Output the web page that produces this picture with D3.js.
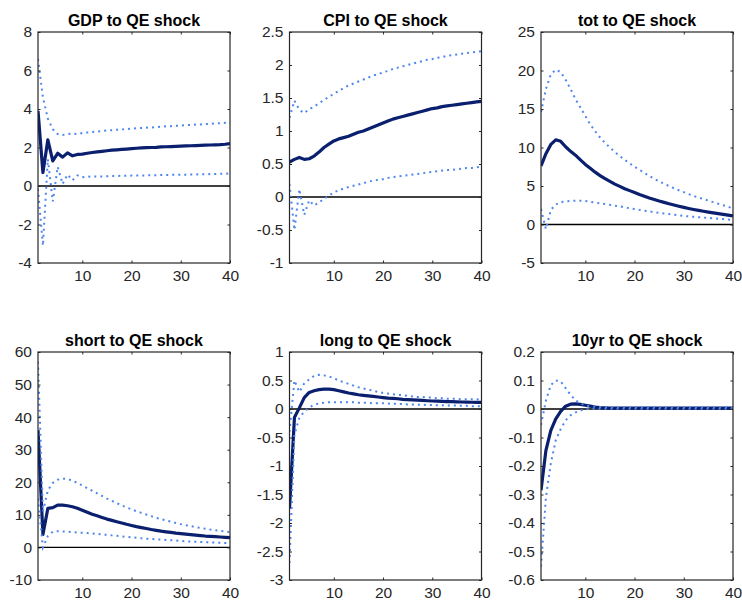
<!DOCTYPE html>
<html>
<head>
<meta charset="utf-8">
<script src="https://cdn.jsdelivr.net/npm/d3@7"></script>
<style>
  html, body { margin: 0; padding: 0; background: #ffffff; }
  svg { display: block; }
  text { font-family: "Liberation Sans", Arial, Helvetica, sans-serif; }
</style>
</head>
<body>
<svg id="chart" width="742" height="601"></svg>
<script>
// ---------------- data ----------------
const periods = [1,2,3,4,5,6,7,8,9,10,11,12,13,14,15,16,17,18,19,20,21,22,23,24,25,26,27,28,29,30,31,32,33,34,35,36,37,38,39,40];

const titles = ["GDP to QE shock", "CPI to QE shock", "tot to QE shock",
                "short to QE shock", "long to QE shock", "10yr to QE shock"];

const xTickValues = [10, 20, 30, 40];

const yDomains = [[-4, 8], [-1, 2.5], [-5, 25], [-10, 60], [-3, 1], [-0.6, 0.2]];
const yTickValues = [
  [-4, -2, 0, 2, 4, 6, 8],
  [-1, -0.5, 0, 0.5, 1, 1.5, 2, 2.5],
  [-5, 0, 5, 10, 15, 20, 25],
  [-10, 0, 10, 20, 30, 40, 50, 60],
  [-3, -2.5, -2, -1.5, -1, -0.5, 0, 0.5, 1],
  [-0.6, -0.5, -0.4, -0.3, -0.2, -0.1, 0, 0.1, 0.2]
];

// GDP
const gdpMean  = [3.9,0.7,2.4,1.3,1.7,1.5,1.72,1.57,1.64,1.66,1.7,1.74,1.77,1.8,1.83,1.86,1.88,1.9,1.92,1.94,1.96,1.98,1.99,2.0,2.01,2.03,2.04,2.05,2.06,2.07,2.08,2.09,2.1,2.11,2.12,2.13,2.14,2.15,2.17,2.2];
const gdpUpper = [6.6,4.6,3.5,2.95,2.7,2.65,2.7,2.72,2.7,2.75,2.78,2.8,2.83,2.86,2.88,2.9,2.92,2.94,2.96,2.98,3.0,3.01,3.03,3.04,3.06,3.08,3.1,3.11,3.13,3.14,3.16,3.17,3.19,3.2,3.22,3.23,3.25,3.26,3.28,3.3];
const gdpLower = [-0.15,-3.1,1.4,-0.8,1.0,0.1,0.6,0.3,0.55,0.45,0.48,0.5,0.5,0.5,0.51,0.52,0.52,0.53,0.53,0.54,0.54,0.55,0.55,0.56,0.56,0.57,0.57,0.58,0.58,0.59,0.59,0.6,0.6,0.61,0.61,0.62,0.62,0.63,0.64,0.65];

// CPI
const cpiMean  = [0.53,0.57,0.6,0.57,0.58,0.62,0.68,0.75,0.8,0.85,0.88,0.9,0.92,0.95,0.98,1.0,1.03,1.06,1.09,1.12,1.15,1.18,1.2,1.22,1.24,1.26,1.28,1.3,1.32,1.34,1.35,1.37,1.38,1.39,1.4,1.41,1.42,1.43,1.44,1.45];
const cpiUpper = [1.2,1.46,1.32,1.27,1.33,1.37,1.42,1.47,1.52,1.56,1.61,1.65,1.69,1.72,1.75,1.78,1.81,1.84,1.86,1.89,1.91,1.94,1.96,1.98,2.0,2.02,2.04,2.06,2.08,2.09,2.11,2.12,2.14,2.15,2.16,2.17,2.18,2.19,2.2,2.21];
const cpiLower = [0.2,-0.5,0.12,-0.27,-0.05,-0.13,-0.08,-0.03,0.02,0.07,0.1,0.13,0.15,0.17,0.19,0.21,0.23,0.25,0.26,0.27,0.29,0.3,0.31,0.32,0.33,0.34,0.35,0.36,0.37,0.38,0.39,0.4,0.41,0.41,0.42,0.43,0.44,0.44,0.45,0.46];

// tot
const totMean  = [7.6,9.2,10.4,11.0,10.8,10.1,9.5,9.0,8.4,7.8,7.3,6.8,6.35,5.95,5.6,5.25,4.95,4.65,4.4,4.15,3.9,3.67,3.45,3.25,3.05,2.87,2.7,2.53,2.37,2.22,2.08,1.95,1.83,1.72,1.61,1.51,1.41,1.32,1.22,1.12];
const totUpper = [14.6,17.6,19.5,20.1,19.8,18.8,17.6,16.3,15.2,14.1,13.0,12.1,11.3,10.6,10.0,9.4,8.9,8.4,7.95,7.5,7.1,6.7,6.3,5.95,5.6,5.3,5.0,4.7,4.45,4.2,3.95,3.7,3.5,3.3,3.1,2.9,2.7,2.5,2.3,2.1];
const totLower = [2.0,-0.6,1.9,2.6,2.9,3.0,3.05,3.1,3.1,3.05,2.95,2.85,2.75,2.65,2.55,2.45,2.35,2.25,2.1,2.0,1.9,1.8,1.7,1.6,1.5,1.42,1.35,1.28,1.2,1.12,1.05,1.0,0.95,0.9,0.85,0.8,0.75,0.7,0.65,0.6];

// short
const shortMean  = [36,4,12,12.2,13,13,12.8,12.5,12,11.4,10.8,10.2,9.7,9.2,8.7,8.3,7.9,7.5,7.1,6.75,6.4,6.1,5.8,5.5,5.25,5.0,4.8,4.6,4.4,4.25,4.1,3.95,3.8,3.65,3.5,3.4,3.3,3.2,3.1,3.0];
const shortUpper = [57,11,17.5,19.8,20.8,21.1,21.0,20.5,19.8,19.0,18.2,17.4,16.6,15.8,15.0,14.3,13.6,12.9,12.3,11.7,11.1,10.6,10.1,9.6,9.1,8.7,8.3,7.9,7.5,7.15,6.85,6.55,6.25,6.0,5.75,5.5,5.3,5.1,4.9,4.7];
const shortLower = [15,0,3.5,4.8,5.0,4.9,4.8,4.7,4.6,4.5,4.4,4.3,4.15,4.0,3.85,3.7,3.55,3.4,3.25,3.1,2.95,2.8,2.7,2.6,2.5,2.4,2.3,2.2,2.1,2.0,1.9,1.8,1.75,1.7,1.6,1.55,1.5,1.4,1.35,1.3];

// long
const longMean  = [-1.75,-0.15,0.02,0.2,0.29,0.32,0.34,0.35,0.35,0.34,0.32,0.3,0.28,0.265,0.25,0.24,0.23,0.22,0.21,0.2,0.19,0.185,0.18,0.17,0.165,0.16,0.155,0.15,0.145,0.14,0.138,0.135,0.13,0.128,0.125,0.123,0.12,0.118,0.116,0.115];
const longUpper = [-0.4,0.5,0.3,0.45,0.52,0.58,0.6,0.59,0.57,0.54,0.5,0.47,0.44,0.41,0.38,0.36,0.34,0.32,0.3,0.28,0.27,0.26,0.25,0.24,0.23,0.22,0.21,0.21,0.2,0.2,0.19,0.19,0.18,0.18,0.18,0.17,0.17,0.17,0.17,0.16];
const longLower = [-2.7,-0.45,-0.15,-0.05,0.03,0.07,0.1,0.11,0.12,0.12,0.12,0.12,0.12,0.12,0.11,0.11,0.11,0.1,0.1,0.1,0.095,0.09,0.09,0.085,0.08,0.08,0.075,0.075,0.07,0.07,0.065,0.065,0.06,0.06,0.06,0.055,0.055,0.05,0.05,0.05];

// 10yr
const tenMean  = [-0.285,-0.145,-0.075,-0.035,-0.008,0.01,0.017,0.018,0.016,0.013,0.01,0.007,0.005,0.004,0.003,0.003,0.003,0.003,0.003,0.003,0.003,0.003,0.003,0.003,0.003,0.003,0.003,0.003,0.003,0.003,0.003,0.003,0.003,0.003,0.003,0.003,0.003,0.003,0.003,0.003];
const tenUpper = [-0.056,0.03,0.084,0.1,0.097,0.073,0.05,0.03,0.02,0.012,0.01,0.008,0.007,0.006,0.006,0.006,0.006,0.006,0.006,0.006,0.006,0.006,0.006,0.006,0.006,0.006,0.006,0.006,0.006,0.006,0.006,0.006,0.006,0.006,0.006,0.006,0.006,0.006,0.006,0.006];
const tenLower = [-0.553,-0.31,-0.19,-0.11,-0.07,-0.04,-0.022,-0.012,-0.005,-0.001,0.0,0.001,0.001,0.001,0.001,0.001,0.001,0.001,0.001,0.001,0.001,0.001,0.001,0.001,0.001,0.001,0.001,0.001,0.001,0.001,0.001,0.001,0.001,0.001,0.001,0.001,0.001,0.001,0.001,0.001];

const panelSeries = [
  [gdpMean, gdpUpper, gdpLower],
  [cpiMean, cpiUpper, cpiLower],
  [totMean, totUpper, totLower],
  [shortMean, shortUpper, shortLower],
  [longMean, longUpper, longLower],
  [tenMean, tenUpper, tenLower]
];

// ---------------- layout ----------------
const colLeft = [38, 289.5, 541];
const colWidth = 192;
const rowTop = [32, 352];
const rowBottom = [263, 580];

const meanColor = "#0a1f6e";
const bandColor = "#4f86ee";
const axisColor = "#262626";

const svg = d3.select("#chart");

panelSeries.forEach((series, i) => {
  const col = i % 3, row = Math.floor(i / 3);
  const x0 = colLeft[col], x1 = x0 + colWidth;
  const y0 = rowTop[row], y1 = rowBottom[row];

  const x = d3.scaleLinear().domain([1, 40]).range([x0, x1]);
  const y = d3.scaleLinear().domain(yDomains[i]).range([y1, y0]);

  const g = svg.append("g");

  const clipId = "clip" + i;
  g.append("clipPath").attr("id", clipId)
    .append("rect").attr("x", x0).attr("y", y0 - 2)
    .attr("width", x1 - x0 + 2).attr("height", y1 - y0 + 4);

  const plot = g.append("g").attr("clip-path", `url(#${clipId})`);

  // zero line
  plot.append("line")
    .attr("x1", x(1)).attr("x2", x(40))
    .attr("y1", y(0)).attr("y2", y(0))
    .attr("stroke", "#000").attr("stroke-width", 1.3);

  const line = d3.line().x((d, k) => x(periods[k])).y(d => y(d));

  // mean
  plot.append("path")
    .datum(series[0])
    .attr("d", line)
    .attr("fill", "none")
    .attr("stroke", meanColor)
    .attr("stroke-width", 3.2)
    .attr("stroke-linejoin", "round");

  // bands (dotted), drawn on top of the mean line
  [series[1], series[2]].forEach(arr => {
    plot.append("path")
      .datum(arr)
      .attr("d", line)
      .attr("fill", "none")
      .attr("stroke", bandColor)
      .attr("stroke-width", 2)
      .attr("stroke-dasharray", "2,4");
  });

  // axes
  const fmt = v => String(v);
  const left = g.append("g").attr("transform", `translate(${x0},0)`)
    .call(d3.axisLeft(y).tickValues(yTickValues[i]).tickFormat(fmt)
      .tickSizeInner(-2.5).tickSizeOuter(0).tickPadding(6));
  const right = g.append("g").attr("transform", `translate(${x1},0)`)
    .call(d3.axisRight(y).tickValues(yTickValues[i]).tickFormat("")
      .tickSizeInner(-2.5).tickSizeOuter(0));
  const bottom = g.append("g").attr("transform", `translate(0,${y1})`)
    .call(d3.axisBottom(x).tickValues(xTickValues).tickFormat(fmt)
      .tickSizeInner(-2.5).tickSizeOuter(0).tickPadding(7));
  const top = g.append("g").attr("transform", `translate(0,${y0})`)
    .call(d3.axisTop(x).tickValues(xTickValues).tickFormat("")
      .tickSizeInner(-2.5).tickSizeOuter(0));

  [left, right, bottom, top].forEach(a => {
    a.select(".domain").remove();
    a.selectAll(".tick line").attr("stroke", axisColor);
    a.selectAll("text")
      .attr("fill", axisColor)
      .style("font-size", "15.5px")
      .style("font-family", '"Liberation Sans", Arial, Helvetica, sans-serif');
  });

  // box
  g.append("rect")
    .attr("x", x0).attr("y", y0)
    .attr("width", x1 - x0).attr("height", y1 - y0)
    .attr("fill", "none")
    .attr("stroke", axisColor)
    .attr("stroke-width", 1.2);

  // title
  g.append("text")
    .attr("x", (x0 + x1) / 2)
    .attr("y", y0 - 6)
    .attr("text-anchor", "middle")
    .attr("fill", "#000")
    .style("font-size", "16px")
    .style("font-weight", "bold")
    .text(titles[i]);
});
</script>
</body>
</html>
